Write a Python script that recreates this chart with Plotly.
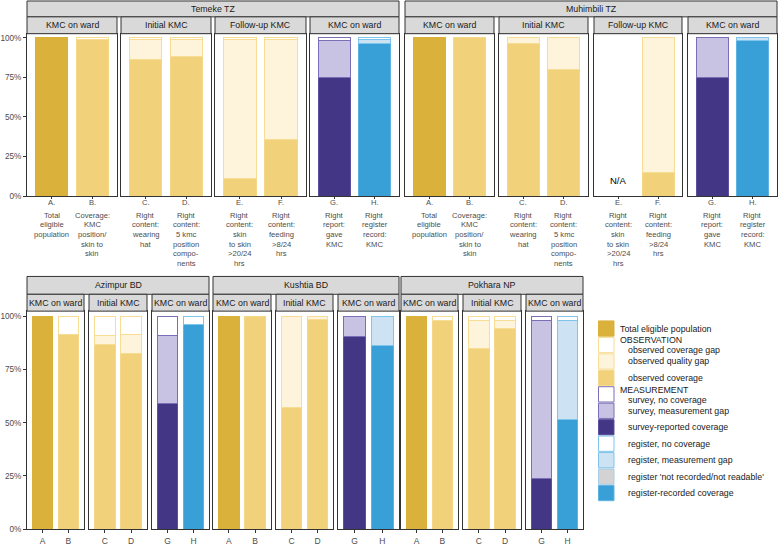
import plotly.graph_objects as go

W, H = 778, 547

# ---------------- data ----------------
top_sites = ["Temeke TZ", "Muhimbili TZ"]
bottom_sites = ["Azimpur BD", "Kushtia BD", "Pokhara NP"]

top_cats = ["A", "B", "C", "D", "E", "F", "G", "H"]
top_groups = ["KMC on ward", "Initial KMC", "Follow-up KMC", "KMC on ward"]
bottom_cats = ["A", "B", "C", "D", "G", "H"]
bottom_groups = ["KMC on ward", "Initial KMC", "KMC on ward"]

top_tick_labels = {
    "A": ["A.", "Total", "eligible", "population"],
    "B": ["B.", "Coverage:", "KMC", "position/", "skin to", "skin"],
    "C": ["C.", "Right", "content:", "wearing", "hat"],
    "D": ["D.", "Right", "content:", "5 kmc", "position", "compo-", "nents"],
    "E": ["E.", "Right", "content:", "skin", "to skin", ">20/24", "hrs"],
    "F": ["F.", "Right", "content:", "feeding", ">8/24", "hrs"],
    "G": ["G.", "Right", "report:", "gave", "KMC"],
    "H": ["H.", "Right", "register", "record:", "KMC"],
}

# percent values: coverage (bottom), gap (quality / measurement gap), no coverage (top)
temeke_coverage = [100, 99, 86, 88, 11, 36, 75, 96]
temeke_gap = [0, 0, 13, 11, 88, 63, 23.5, 3]
temeke_nocov = [0, 1, 1, 1, 1, 1, 1.5, 1]

muhimbili_coverage = [100, 100, 96, 80, None, 15, 75, 98.5]
muhimbili_gap = [0, 0, 4, 20, None, 85, 25, 1.5]
muhimbili_nocov = [0, 0, 0, 0, None, 0, 0, 0]

azimpur_coverage = [100, 91.5, 87, 82.5, 59, 96]
azimpur_gap = [0, 0, 4, 9, 32, 0]
azimpur_nocov = [0, 8.5, 9, 8.5, 9, 4]

kushtia_coverage = [100, 100, 57, 98.5, 90.5, 86.5]
kushtia_gap = [0, 0, 43, 1.5, 9.5, 13.5]
kushtia_nocov = [0, 0, 0, 0, 0, 0]

pokhara_coverage = [100, 98, 85, 94.5, 24, 51.5]
pokhara_gap = [0, 0, 13, 3.5, 74, 46.5]
pokhara_nocov = [0, 2, 2, 2, 2, 2]

na_label = "N/A"

y_tickvals = [0, 25, 50, 75, 100]
y_ticktext = ["0%", "25%", "50%", "75%", "100%"]

legend_labels = [
    "Total eligible population",
    "observed coverage gap",
    "observed quality gap",
    "observed coverage",
    "survey, no coverage",
    "survey, measurement gap",
    "survey-reported coverage",
    "register, no coverage",
    "register, measurement gap",
    "register 'not recorded/not readable'",
    "register-recorded coverage",
]
legend_headers = {1: "OBSERVATION", 4: "MEASUREMENT"}

# ---------------- styles ----------------
STYLE = {
    "Total eligible population": ("#D9B13B", "#D9B13B"),
    "observed coverage gap": ("#FFFFFF", "#F7DC93"),
    "observed quality gap": ("#FEF4DB", "#F7DC93"),
    "observed coverage": ("#F1D27B", "#F4D888"),
    "survey, no coverage": ("#FFFFFF", "#7C6EB6"),
    "survey, measurement gap": ("#C8C3E3", "#7C6EB6"),
    "survey-reported coverage": ("#433684", "#5E50A0"),
    "register, no coverage": ("#FFFFFF", "#7EC4EC"),
    "register, measurement gap": ("#CDE3F3", "#7EC4EC"),
    "register 'not recorded/not readable'": ("#D3D3D3", "#A9CDE6"),
    "register-recorded coverage": ("#389FD7", "#5FB3E3"),
}
KIND = {"A": "total", "B": "obs", "C": "obs", "D": "obs", "E": "obs", "F": "obs",
        "G": "survey", "H": "register"}
SEGS = {
    "total": ["Total eligible population"],
    "obs": ["observed coverage", "observed quality gap", "observed coverage gap"],
    "survey": ["survey-reported coverage", "survey, measurement gap", "survey, no coverage"],
    "register": ["register-recorded coverage", "register, measurement gap", "register, no coverage"],
}

FONT = "Liberation Sans, Arial, sans-serif"
TXT = "#1A1A1A"
AX = "#4D4D4D"
BORDER = "#333333"
STRIP = "#D9D9D9"


def fx(px):
    return px / W


def fy(py):
    return 1 - py / H


# panel layout in pixels
top_panel_px = [(27, 117), (121, 211), (215, 306), (310, 399),
                 (405, 494), (499, 588), (594, 682), (688, 777)]
bottom_panel_px = [(27, 84), (89, 147), (152, 209), (213, 271), (276, 333), (338, 399),
                   (401, 458), (463, 521), (526, 583)]
rows = [
    dict(sites=top_sites, cats=top_cats, groups=top_groups,
         data=[(temeke_coverage, temeke_gap, temeke_nocov),
               (muhimbili_coverage, muhimbili_gap, muhimbili_nocov)],
         panels=top_panel_px, strip1=(1, 17), strip2=(17, 34), plot=(34, 198), top=True),
    dict(sites=bottom_sites, cats=bottom_cats, groups=bottom_groups,
         data=[(azimpur_coverage, azimpur_gap, azimpur_nocov),
               (kushtia_coverage, kushtia_gap, kushtia_nocov),
               (pokhara_coverage, pokhara_gap, pokhara_nocov)],
         panels=bottom_panel_px, strip1=(279, 297), strip2=(297, 314), plot=(314, 534), top=False),
]

fig = go.Figure()
layout = dict(width=W, height=H, margin=dict(l=0, r=0, t=0, b=0),
              paper_bgcolor="white", plot_bgcolor="white", barmode="stack",
              showlegend=False, font=dict(family=FONT, color=TXT), bargap=0.2)
shapes, annotations = [], []

k = 0
for row in rows:
    npan = len(row["groups"])
    py0, py1 = row["plot"]
    for s, site in enumerate(row["sites"]):
        cov, gap, noc = row["data"][s]
        pans = row["panels"][s * npan:(s + 1) * npan]
        # site strip
        sx0, sx1 = pans[0][0], pans[-1][1]
        shapes.append(dict(type="rect", xref="paper", yref="paper",
                           x0=fx(sx0), x1=fx(sx1), y0=fy(row["strip1"][1]), y1=fy(row["strip1"][0]),
                           fillcolor=STRIP, line=dict(color=BORDER, width=1)))
        annotations.append(dict(xref="paper", yref="paper", x=fx((sx0 + sx1) / 2),
                                y=fy(sum(row["strip1"]) / 2), text=site, showarrow=False,
                                font=dict(size=8.8, color=TXT), xanchor="center", yanchor="middle"))
        for p, grp in enumerate(row["groups"]):
            k += 1
            xn = "xaxis" if k == 1 else f"xaxis{k}"
            yn = "yaxis" if k == 1 else f"yaxis{k}"
            xr = "x" if k == 1 else f"x{k}"
            yr = "y" if k == 1 else f"y{k}"
            px0, px1 = pans[p]
            idx = [2 * p, 2 * p + 1]
            pcats = [row["cats"][i] for i in idx]
            first = (s == 0 and p == 0)
            layout[xn] = dict(domain=[fx(px0), fx(px1)], anchor=yr, type="category",
                              categoryorder="array", categoryarray=pcats, range=[-0.6, 1.6],
                              showline=True, mirror=True, linecolor=BORDER, linewidth=1,
                              showgrid=False, zeroline=False, ticks="outside",
                              ticklen=3 if not row["top"] else 2,
                              tickcolor=BORDER, showticklabels=not row["top"],
                              ticklabelstandoff=1,
                              tickfont=dict(size=8.5, color=AX, family=FONT), fixedrange=True)
            layout[yn] = dict(domain=[fy(py1), fy(py0)], anchor=xr, range=[0, 102.5],
                              showline=True, mirror=True, linecolor=BORDER, linewidth=1,
                              showgrid=False, zeroline=False,
                              ticks="outside" if first else "", ticklen=3, tickcolor=BORDER,
                              tickvals=y_tickvals, ticktext=y_ticktext,
                              showticklabels=first,
                              tickfont=dict(size=8.2, color=AX, family=FONT), fixedrange=True)
            # group strip
            shapes.append(dict(type="rect", xref="paper", yref="paper",
                               x0=fx(px0), x1=fx(px1), y0=fy(row["strip2"][1]), y1=fy(row["strip2"][0]),
                               fillcolor=STRIP, line=dict(color=BORDER, width=1)))
            annotations.append(dict(xref="paper", yref="paper", x=fx((px0 + px1) / 2),
                                    y=fy(sum(row["strip2"]) / 2), text=grp, showarrow=False,
                                    font=dict(size=8.8, color=TXT), xanchor="center", yanchor="middle"))
            for i in idx:
                cat = row["cats"][i]
                if cov[i] is None:
                    annotations.append(dict(xref=xr, yref=yr, x=cat, y=10, text=na_label,
                                            showarrow=False, font=dict(size=9.5, color="#000000")))
                else:
                    vals = [cov[i], gap[i], noc[i]]
                    for name, v in zip(SEGS[KIND[cat]], vals):
                        if not v:
                            continue
                        fill, line = STYLE[name]
                        fig.add_trace(go.Bar(x=[cat], y=[v], xaxis=xr, yaxis=yr, width=0.8,
                                             marker=dict(color=fill, line=dict(color=line, width=1)),
                                             name=name, hoverinfo="name+y"))
                if row["top"]:
                    lines = top_tick_labels[cat]
                    for li, t in enumerate(lines):
                        ypx = 204 if li == 0 else 217 + 9.8 * (li - 1)
                        annotations.append(dict(xref=xr, yref="paper", x=cat, y=fy(ypx), text=t,
                                                showarrow=False, xanchor="center", yanchor="middle",
                                                font=dict(size=7.6, color=AX)))

# legend
for i, lab in enumerate(legend_labels):
    ky0 = 323.3 + i * 16.6
    ky1 = ky0 + 16.6
    fill, line = STYLE[lab]
    shapes.append(dict(type="rect", xref="paper", yref="paper", x0=fx(598.5), x1=fx(614),
                       y0=fy(ky1 - 0.6), y1=fy(ky0 + 0.6), fillcolor=fill,
                       line=dict(color=line, width=1)))
    c = (ky0 + ky1) / 2
    if i in legend_headers:
        annotations.append(dict(xref="paper", yref="paper", x=fx(618), y=fy(c - 4.6),
                                text=legend_headers[i], showarrow=False, xanchor="left",
                                yanchor="middle", font=dict(size=8.8, color=TXT)))
        annotations.append(dict(xref="paper", yref="paper", x=fx(626), y=fy(c + 5.4),
                                text=lab, showarrow=False, xanchor="left",
                                yanchor="middle", font=dict(size=8.8, color=TXT)))
    else:
        x0 = 618 if i == 0 else 626
        annotations.append(dict(xref="paper", yref="paper", x=fx(x0), y=fy(c),
                                text=lab, showarrow=False, xanchor="left",
                                yanchor="middle", font=dict(size=8.8, color=TXT)))

layout["shapes"] = shapes
layout["annotations"] = annotations
fig.update_layout(**layout)
fig.write_html("out.html", config={"displayModeBar": False},
               post_script="document.body.style.margin='0';document.body.style.overflow='hidden';")
